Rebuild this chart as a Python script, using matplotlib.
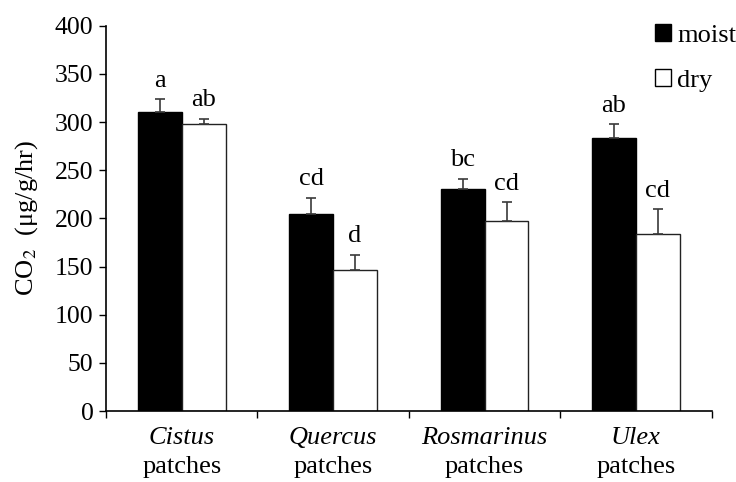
import matplotlib
matplotlib.use("Agg")
import matplotlib.pyplot as plt
from matplotlib.patches import Patch
from matplotlib.transforms import blended_transform_factory, offset_copy
import numpy as np

plt.rcParams["font.family"] = ["Liberation Serif", "DejaVu Serif"]
plt.rcParams["mathtext.fontset"] = "stix"

genera = ["Cistus", "Quercus", "Rosmarinus", "Ulex"]
moist = [310.5, 205.0, 230.5, 283.5]
moist_se = [13.0, 16.0, 10.5, 14.0]
dry = [298.0, 146.5, 197.0, 184.0]
dry_se = [5.5, 15.5, 19.5, 25.5]
moist_letters = ["a", "cd", "bc", "ab"]
dry_letters = ["ab", "d", "cd", "cd"]
yticks = [0, 50, 100, 150, 200, 250, 300, 350, 400]

FS = 19

fig = plt.figure(figsize=(7.36, 4.82), dpi=100)
ax = fig.add_axes([0.144, 0.1473, 0.823, 0.7994])

x = np.arange(len(genera))
w = 0.29
err_kw = dict(ecolor="#3a3a3a", elinewidth=1.2, capsize=3.8, capthick=1.2)

ax.bar(x - w / 2, moist, w, color="black", edgecolor="black", linewidth=1.0,
       yerr=[np.zeros(len(moist)), moist_se], error_kw=err_kw, zorder=2)
ax.bar(x + w / 2, dry, w, color="white", edgecolor="#222222", linewidth=1.0,
       yerr=[np.zeros(len(dry)), dry_se], error_kw=err_kw, zorder=2)

# significance letters above the error bars
for xi, v, e, lab in zip(x - w / 2, moist, moist_se, moist_letters):
    ax.annotate(lab, (xi, v + e), xytext=(0, 5.5), textcoords="offset points",
                ha="center", va="bottom", fontsize=FS)
for xi, v, e, lab in zip(x + w / 2, dry, dry_se, dry_letters):
    ax.annotate(lab, (xi, v + e), xytext=(0, 5.5), textcoords="offset points",
                ha="center", va="bottom", fontsize=FS)

ax.set_ylim(0, 400)
ax.set_xlim(-0.5, len(genera) - 0.5)
ax.set_yticks(yticks)
ax.set_yticklabels([str(t) for t in yticks], fontsize=18.5)
ax.set_xticks(np.arange(len(genera) + 1) - 0.5)
ax.set_xticklabels([])
ax.tick_params(axis="both", direction="out", length=5, width=1.0, colors="black")
ax.tick_params(axis="y", pad=4)

for side in ("top", "right"):
    ax.spines[side].set_visible(False)
for side in ("left", "bottom"):
    ax.spines[side].set_linewidth(1.2)

# two-line category labels: italic genus, then "patches"
trans = blended_transform_factory(ax.transData, ax.transAxes)
for xi, g in zip(x, genera):
    ax.text(xi, 0, g, transform=offset_copy(trans, fig=fig, x=0, y=-19.5, units="points"),
            ha="center", va="center", fontsize=FS, style="italic")
    ax.text(xi, 0, "patches", transform=offset_copy(trans, fig=fig, x=0, y=-40.5, units="points"),
            ha="center", va="center", fontsize=FS)

ax.set_ylabel(r"CO$_2$  (μg/g/hr)", fontsize=FS, labelpad=11)

handles = [Patch(facecolor="black", edgecolor="black", label="moist"),
           Patch(facecolor="white", edgecolor="black", label="dry")]
ax.legend(handles=handles, loc="upper right", bbox_to_anchor=(1.058, 1.031),
          frameon=False, fontsize=FS, handlelength=0.6, handleheight=0.6,
          handletextpad=0.25, labelspacing=0.85, borderaxespad=0.0)

fig.savefig("out.png", dpi=100)
